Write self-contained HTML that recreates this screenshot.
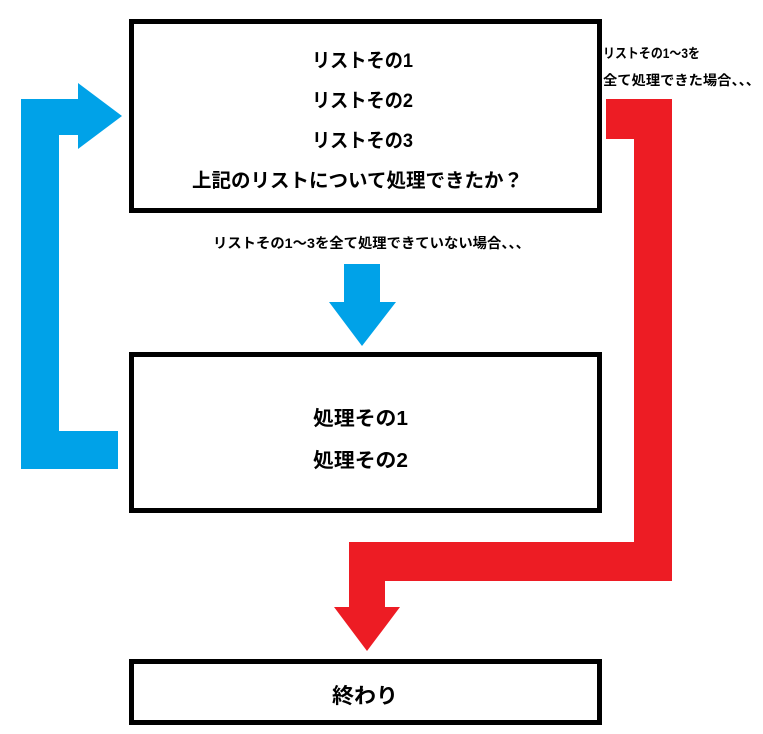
<!DOCTYPE html>
<html><head><meta charset="utf-8"><style>
html,body{margin:0;padding:0;background:#fff;}
svg{display:block;}
text{font-family:"Liberation Sans","Noto Sans CJK JP",sans-serif;font-weight:bold;fill:#000;}
</style></head><body>
<svg width="763" height="734" viewBox="0 0 763 734" xmlns="http://www.w3.org/2000/svg">
<rect width="763" height="734" fill="#fff"/>
<!-- boxes -->
<rect x="131.5" y="21.5" width="468" height="189" fill="none" stroke="#000" stroke-width="5"/>
<rect x="131.5" y="354.5" width="468" height="156" fill="none" stroke="#000" stroke-width="5"/>
<rect x="131.5" y="661.5" width="468" height="61" fill="none" stroke="#000" stroke-width="5"/>
<!-- blue loop arrow -->
<polygon fill="#00A2E8" points="21,469 118,469 118,431 59,431 59,135 78,135 78,149 122,116 78,83 78,99 21,99"/>
<!-- blue down arrow -->
<polygon fill="#00A2E8" points="344,264 380,264 380,302 396,302 362,346 329,302 344,302"/>
<!-- red arrow -->
<polygon fill="#ED1C24" points="606,99 672,99 672,581 385,581 385,607 400,607 367,651 334,607 349,607 349,542 634,542 634,139 606,139"/>
<!-- box1 text -->
<text x="312" y="67" font-size="19.5" textLength="101" lengthAdjust="spacingAndGlyphs">リストその1</text>
<text x="312" y="107" font-size="19.5" textLength="101" lengthAdjust="spacingAndGlyphs">リストその2</text>
<text x="312" y="147" font-size="19.5" textLength="101" lengthAdjust="spacingAndGlyphs">リストその3</text>
<text x="192" y="187" font-size="19.5" textLength="331" lengthAdjust="spacingAndGlyphs">上記のリストについて処理できたか？</text>
<!-- label below box1 -->
<text x="213" y="248" font-size="14" textLength="317" lengthAdjust="spacingAndGlyphs">リストその1〜3を全て処理できていない場合、、、</text>
<!-- right label -->
<text x="603" y="58" font-size="13.5" textLength="97" lengthAdjust="spacingAndGlyphs">リストその1〜3を</text>
<text x="603" y="85" font-size="13.5" textLength="157" lengthAdjust="spacingAndGlyphs">全て処理できた場合、、、</text>
<!-- box2 text -->
<text x="313" y="425" font-size="20" textLength="95" lengthAdjust="spacingAndGlyphs">処理その1</text>
<text x="313" y="467" font-size="20" textLength="95" lengthAdjust="spacingAndGlyphs">処理その2</text>
<!-- box3 text -->
<text x="332" y="703" font-size="21" textLength="66" lengthAdjust="spacingAndGlyphs">終わり</text>
</svg>
</body></html>
